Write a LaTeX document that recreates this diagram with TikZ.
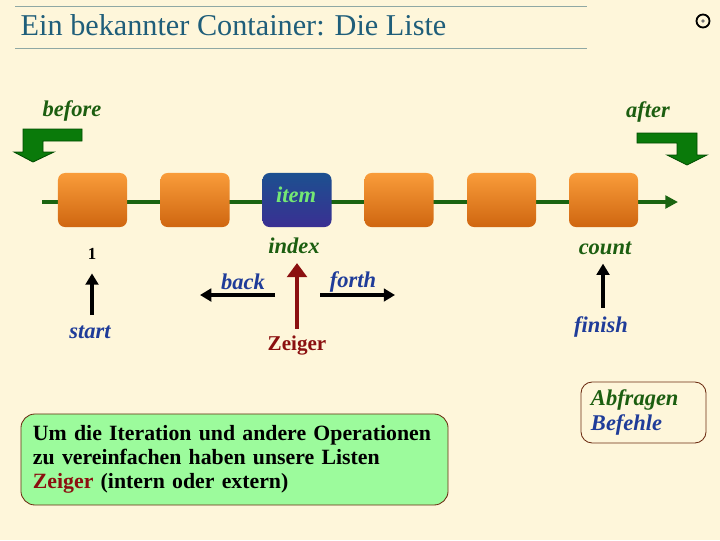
\documentclass[tikz,border=0pt]{standalone}
\usepackage{fontspec}
\setmainfont{Liberation Serif}
\usepackage{tikz}
\usetikzlibrary{arrows.meta}

\definecolor{bgcream}{HTML}{FEF6DA}
\definecolor{titleblue}{HTML}{1F5E7A}
\definecolor{rulegray}{HTML}{8FA8A4}
\definecolor{listgreen}{HTML}{1A6410}
\definecolor{arrowgreen}{HTML}{0A7A0A}
\definecolor{lblgreen}{HTML}{1C5E10}
\definecolor{lblblue}{HTML}{1F3C99}
\definecolor{ptrred}{HTML}{8B1010}
\definecolor{orangetop}{HTML}{F99C3A}
\definecolor{orangebot}{HTML}{CF6610}
\definecolor{bluetop}{HTML}{1C5090}
\definecolor{bluebot}{HTML}{3A2F92}
\definecolor{itemgreen}{HTML}{74E874}
\definecolor{notegreen}{HTML}{9CFB9C}
\definecolor{boxbrown}{HTML}{6B2A10}

\tikzset{
    lbl/.style={font=\fontsize{16}{18}\selectfont\bfseries\itshape, inner sep=1pt},
    greenlbl/.style={lbl, text=lblgreen},
    bluelbl/.style={lbl, text=lblblue},
    listbox/.style={rounded corners=5pt, minimum width=1.725cm, minimum height=1.35cm,
        top color=orangetop, bottom color=orangebot, draw=none},
    itembox/.style={listbox, top color=bluetop, bottom color=bluebot},
    ptr/.style={line width=2.2pt, -{Triangle[length=8pt, width=9pt]}},
}

\begin{document}
\begin{tikzpicture}[x=0.025cm, y=-0.025cm, line width=1pt]
    % background
    \fill[bgcream] (0, 0) rectangle (720, 540);

    % draw title
    \draw[rulegray, line width=0.6pt] (15, 6) -- (587, 6);
    \draw[rulegray, line width=0.6pt] (15, 48) -- (587, 48);
    \node[anchor=base west, inner sep=0pt, text=titleblue, font=\fontsize{21.5}{24}\selectfont] (title) at (20, 35) {Ein bekannter Container: Die Liste};
    \draw[line width=1.3pt] (703, 21) circle (6.5);
    \fill[black!55] (703, 21) circle (1.8);

    % draw bent arrows
    \filldraw[fill=arrowgreen, draw=black!70!green, line width=0.6pt] (23, 129) -- (82, 129) -- (82, 141) -- (43, 141) -- (43, 152) -- (54, 152) -- (33, 162) -- (14, 152) -- (23, 152) -- cycle;
    \filldraw[fill=arrowgreen, draw=black!70!green, line width=0.6pt] (637, 133) -- (697, 133) -- (697, 155) -- (707, 155) -- (687, 165) -- (667, 155) -- (677, 155) -- (677, 143) -- (637, 143) -- cycle;
    \node[greenlbl] (before) at (72, 111) {before};
    \node[greenlbl] (after) at (648, 112) {after};

    % draw list
    \coordinate (lstart) at (42, 202);
    \coordinate (lend) at (678, 202);
    \draw[listgreen, line width=2.5pt, -{Triangle[length=9pt, width=9pt]}] (lstart) -- (lend);
    \node[listbox] (c1) at (92.5, 200) {};
    \node[listbox] (c2) at (195, 200) {};
    \node[itembox] (c3) at (297, 200) {};
    \node[listbox] (c4) at (399, 200) {};
    \node[listbox] (c5) at (501.5, 200) {};
    \node[listbox] (c6) at (603.5, 200) {};
    \node[lbl, text=itemgreen] (item) at (296, 195) {item};

    % draw start
    \node[font=\fontsize{12}{14}\selectfont\bfseries] (one) at (92, 254) {1};
    \node[bluelbl] (start) at (90, 332) {start};
    \draw[ptr, shorten <=6pt, shorten >=6pt] (start.north -| one) -- (one.south);

    % draw cursor
    \node[greenlbl] (index) at (294, 246) {index};
    \node[font=\fontsize{15}{18}\selectfont\bfseries, text=ptrred, inner sep=1pt] (zeiger) at (297, 346) {Zeiger};
    \draw[ptr, ptrred, line width=3.5pt, -{Triangle[length=10pt, width=14pt]}, shorten <=4pt, shorten >=5pt] (zeiger.north) -- (zeiger.north |- index.south);
    \node[bluelbl] (back) at (243, 282) {back};
    \node[bluelbl] (forth) at (353, 282) {forth};
    \coordinate (backfrom) at (275, 295);
    \coordinate (backto) at (200, 295);
    \coordinate (forthfrom) at (320, 295);
    \coordinate (forthto) at (395, 295);
    \draw[ptr] (backfrom) -- (backto);
    \draw[ptr] (forthfrom) -- (forthto);

    % draw finish
    \node[greenlbl] (count) at (605, 248) {count};
    \node[bluelbl] (finish) at (601, 327) {finish};
    \coordinate (fin) at (603, 327);
    \draw[ptr, shorten <=5pt, shorten >=5pt] (fin |- finish.north) -- (fin |- count.south);

    % draw legend boxes
    \node[draw=boxbrown, line width=0.6pt, rounded corners=8pt, fill=bgcream, minimum width=3.125cm, minimum height=1.525cm,
          text width=2.625cm, inner xsep=0.25cm, align=left, font=\fontsize{16}{18.4}\selectfont\bfseries\itshape] (legend) at (643.5, 412.5)
          {\textcolor{lblgreen}{Abfragen}\\\textcolor{lblblue}{Befehle}};
    \node[draw=boxbrown, line width=0.6pt, rounded corners=10pt, fill=notegreen, minimum width=10.675cm, minimum height=2.275cm,
          text width=10.075cm, inner xsep=0.3cm, align=left, font=\fontsize{15.5}{17}\selectfont\bfseries] (note) at (234.5, 459.5)
          {Um die Iteration und andere Operationen\\zu vereinfachen haben unsere Listen\\\textcolor{ptrred}{Zeiger} (intern oder extern)};
\end{tikzpicture}
\end{document}
